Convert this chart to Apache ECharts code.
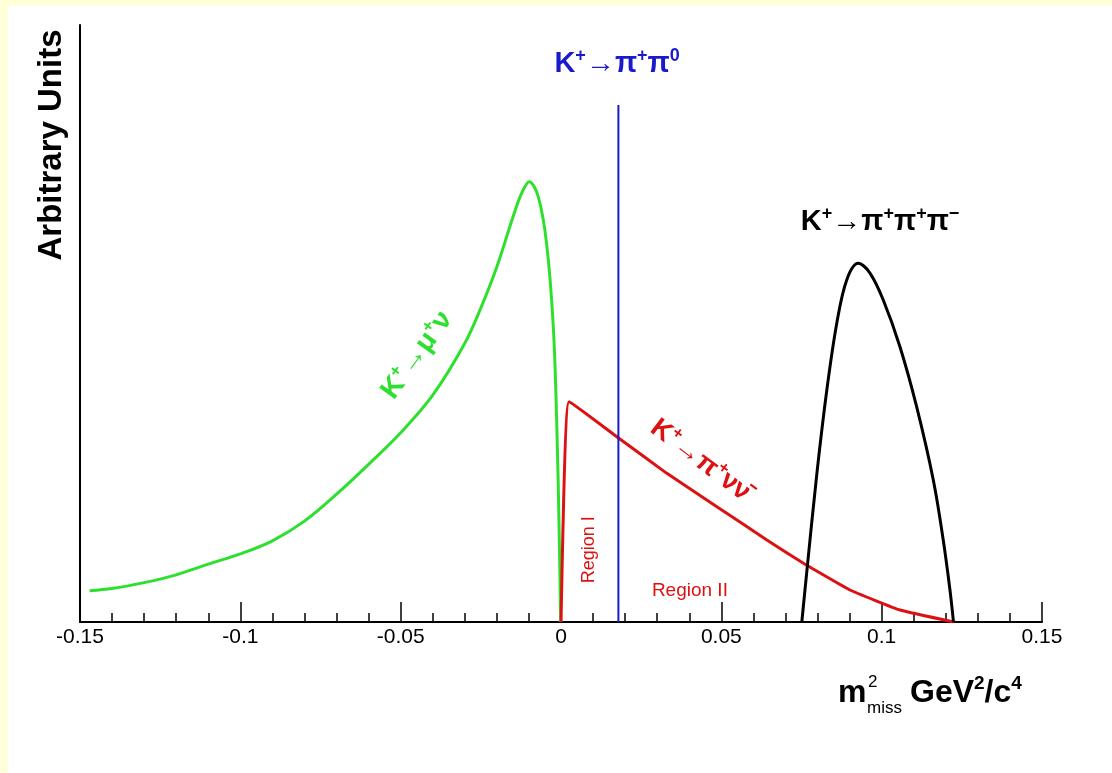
<!DOCTYPE html>
<html>
<head>
<meta charset="utf-8">
<script src="https://cdn.jsdelivr.net/npm/echarts@6/dist/echarts.min.js"></script>
<style>
  html, body { margin: 0; padding: 0; background: #FFFFD9; width: 1112px; height: 773px; overflow: hidden; }
  #chart { position: absolute; left: 8px; top: 6px; width: 1104px; height: 767px; background: #ffffff; }
</style>
</head>
<body>
<div id="chart"></div>
<script>
// x: m2miss (GeV^2/c^4), y: arbitrary units (0-100)
const kmunuX = [-0.147, -0.14, -0.13, -0.12, -0.11, -0.10, -0.09, -0.08, -0.07, -0.06, -0.05, -0.04, -0.03, -0.025, -0.02, -0.015, -0.0123, -0.0099, -0.0071, -0.0045, -0.0024, -0.0013, -0.0006, -0.0001];
const kmunuY = [5.24, 5.6, 6.6, 7.9, 9.7, 11.4, 13.6, 16.9, 21.4, 26.4, 31.7, 38.0, 46.7, 52.6, 59.5, 67.8, 71.8, 73.75, 71.24, 63.43, 49.46, 32.71, 15.96, 0];

const kpinunuX = [0.0000, 0.0006, 0.0025, 0.0174, 0.0330, 0.0486, 0.0642, 0.0756, 0.0901, 0.1057, 0.1225];
const kpinunuY = [0, 15.4, 36.9, 31.04, 24.9, 19.31, 13.74, 9.83, 5.36, 2.01, 0];

const k3piX = [0.0751, 0.0766, 0.0798, 0.0829, 0.0860, 0.0891, 0.0927, 0.0964, 0.1005, 0.1057, 0.1109, 0.1161, 0.1192, 0.1213, 0.1224];
const k3piY = [0, 8.16, 24.9, 38.86, 50.03, 57.29, 60.08, 58.41, 53.94, 46.11, 36.06, 23.79, 13.74, 5.36, 0];

const kpipi0X = [0.0179, 0.0179];
const kpipi0Y = [0, 86.6];

const xTickMin = -0.15, xTickMax = 0.15, xTickStep = 0.05;

function pairs(xs, ys) { return xs.map((x, i) => [x, ys[i]]); }

const chart = echarts.init(document.getElementById('chart'));
const FONT = '"Liberation Sans", Arial, sans-serif';

chart.setOption({
  animation: false,
  backgroundColor: '#ffffff',
  grid: { left: 72, top: 19, right: 70, bottom: 151, containLabel: false },
  xAxis: {
    type: 'value', min: xTickMin, max: xTickMax, interval: xTickStep,
    axisLine: { show: true, onZero: false, lineStyle: { color: '#000', width: 2 } },
    axisTick: { show: true, inside: true, length: 20, lineStyle: { color: '#000', width: 1.5 } },
    minorTick: { show: true, splitNumber: 5, length: 9, lineStyle: { color: '#000', width: 1.5 } },
    splitLine: { show: false },
    axisLabel: { color: '#000', fontSize: 21, fontFamily: FONT, margin: 5 }
  },
  yAxis: {
    type: 'value', min: 0, max: 100,
    axisLine: { show: true, onZero: false, lineStyle: { color: '#000', width: 2 } },
    axisTick: { show: false }, axisLabel: { show: false }, splitLine: { show: false }
  },
  series: [
    { name: 'K+ -> mu+ nu', type: 'line', data: pairs(kmunuX, kmunuY), showSymbol: false, smooth: 0.35,
      lineStyle: { color: '#2EE02E', width: 3 }, z: 3 },
    { name: 'K+ -> pi+ nu nubar', type: 'line', data: pairs(kpinunuX, kpinunuY), showSymbol: false, smooth: 0.1,
      lineStyle: { color: '#DD1111', width: 3 }, z: 4 },
    { name: 'K+ -> pi+ pi+ pi-', type: 'line', data: pairs(k3piX, k3piY), showSymbol: false, smooth: 0.35,
      lineStyle: { color: '#000000', width: 3 }, z: 4 },
    { name: 'K+ -> pi+ pi0', type: 'line', data: pairs(kpipi0X, kpipi0Y), showSymbol: false,
      lineStyle: { color: '#1a1acc', width: 2 }, z: 5 }
  ]
});

function px(x, y) { return chart.convertToPixel({ gridIndex: 0 }, [x, y]); }

function decayLabel(text, at, color, size, rot) {
  const p = px(at[0], at[1]);
  return {
    type: 'text', x: p[0], y: p[1], rotation: (rot || 0) * Math.PI / 180,
    style: {
      text: text, align: 'center', verticalAlign: 'middle',
      rich: {
        b: { fontSize: size, fontWeight: 'bold', fontFamily: FONT, color: color },
        s: { fontSize: Math.round(size * 0.62), fontWeight: 'bold', fontFamily: FONT, color: color, padding: [0, 0, Math.round(size * 0.55), 0] }
      },
      font: 'bold ' + size + 'px ' + FONT, fill: color
    }
  };
}

const g = [];
g.push(decayLabel('{b|K}{s|+}{b|→π}{s|+}{b|π}{s|0}', [0.0175, 93.5], '#1a1acc', 29));
g.push(decayLabel('{b|K}{s|+}{b|→π}{s|+}{b|π}{s|+}{b|π}{s|−}', [0.0995, 67.0], '#000000', 29));
g.push(decayLabel('{b|K}{s|+}{b|→μ}{s|+}{b|ν}', [-0.0449, 44.7], '#2EE02E', 28, 54));
g.push(decayLabel('{b|K}{s|+}{b|→π}{s|+}{b|ν}{b|ν̄}', [0.0434, 27.1], '#DD1111', 27, -37));

const r1 = px(0.0087, 12.1);
g.push({ type: 'text', x: r1[0], y: r1[1], rotation: Math.PI / 2,
  style: { text: 'Region I', align: 'center', verticalAlign: 'middle', font: '18px ' + FONT, fill: '#DD1111' } });
const r2 = px(0.0402, 5.2);
g.push({ type: 'text', x: r2[0], y: r2[1],
  style: { text: 'Region II', align: 'center', verticalAlign: 'middle', font: '19px ' + FONT, fill: '#DD1111' } });

// y axis title
g.push({ type: 'text', x: 44, y: 139, rotation: Math.PI / 2,
  style: { text: 'Arbitrary Units', align: 'center', verticalAlign: 'middle', font: 'bold 33px ' + FONT, fill: '#000' } });

// x axis title: m^2_miss GeV^2/c^4
const tx = 830, ty = 685;
g.push({ type: 'text', x: tx, y: ty + 2, style: { text: 'm', align: 'left', verticalAlign: 'middle', font: 'bold 32px ' + FONT, fill: '#000' } });
g.push({ type: 'text', x: tx + 30, y: ty - 9, style: { text: '2', align: 'left', verticalAlign: 'middle', font: '17px ' + FONT, fill: '#000' } });
g.push({ type: 'text', x: tx + 29, y: ty + 17, style: { text: 'miss', align: 'left', verticalAlign: 'middle', font: '17px ' + FONT, fill: '#000' } });
g.push({ type: 'text', x: tx + 72, y: ty + 2, style: {
  text: '{b|GeV}{s|2}{b|/c}{s|4}', align: 'left', verticalAlign: 'middle',
  rich: { b: { fontSize: 32, fontWeight: 'bold', fontFamily: FONT, color: '#000' },
          s: { fontSize: 19, fontWeight: 'bold', fontFamily: FONT, color: '#000', padding: [0, 0, 18, 0] } } } });

chart.setOption({ graphic: g });
</script>
</body>
</html>
